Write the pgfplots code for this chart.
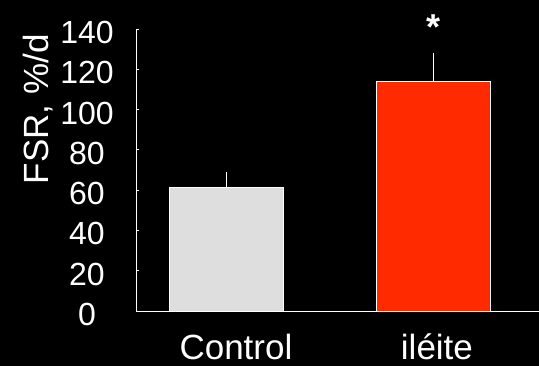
\documentclass[border=0pt]{standalone}
\usepackage{pgfplots}
\pgfplotsset{compat=1.18}
\usepackage{fontspec}
\setmainfont{Liberation Sans}
\definecolor{ctrlgray}{HTML}{DEDEDE}
\definecolor{ileitered}{HTML}{FF2A00}
\begin{document}
\begin{tikzpicture}
% black page
\fill[black] (0pt,0pt) rectangle (539pt,366pt);
\useasboundingbox (0pt,0pt) rectangle (539pt,366pt);
\begin{axis}[
  at={(136pt,55pt)}, anchor=south west,
  scale only axis, width=403pt, height=282pt,
  xmin=-0.435, xmax=1.512, ymin=0, ymax=140,
  axis lines=left,
  axis line style={-, white, line width=0.8pt},
  ytick={0,20,...,140},
  tick align=inside, major tick length=3pt,
  ytick style={white, line width=0.8pt},
  xtick={0.048,1.019}, xticklabels={Control, iléite},
  xtick style={draw=none},
  tick label style={white},
  /pgf/number format/assume math mode=true,
  yticklabel style={font=\fontsize{32}{32}\selectfont, anchor=center, xshift=-49pt, yshift=-3.5pt},
  xticklabel style={font=\fontsize{35}{35}\selectfont, anchor=base, yshift=-49pt},
  ylabel={FSR, \%/d},
  ylabel style={white, font=\fontsize{35}{35}\selectfont, at={(axis description cs:-0.218,0.715)}, anchor=base},
  clip=false,
]
\addplot[ybar, bar width=114pt, bar shift=0pt, fill=ctrlgray, draw=white, line width=0.8pt,
  error bars/.cd, y dir=plus, y explicit, error mark=none,
  error bar style={white, line width=0.8pt}]
  coordinates {(0,61.4) +- (0,7.4)};
\addplot[ybar, bar width=114pt, bar shift=0pt, fill=ileitered, draw=white, line width=0.8pt,
  error bars/.cd, y dir=plus, y explicit, error mark=none,
  error bar style={white, line width=0.8pt}]
  coordinates {(1,113.9) +- (0,14.3)};
% significance mark over the ileitis bar
\node[white, font=\fontsize{36}{36}\selectfont\bfseries, anchor=base] at (axis cs:1.0,134.8) {*};
\end{axis}
\end{tikzpicture}
\end{document}
